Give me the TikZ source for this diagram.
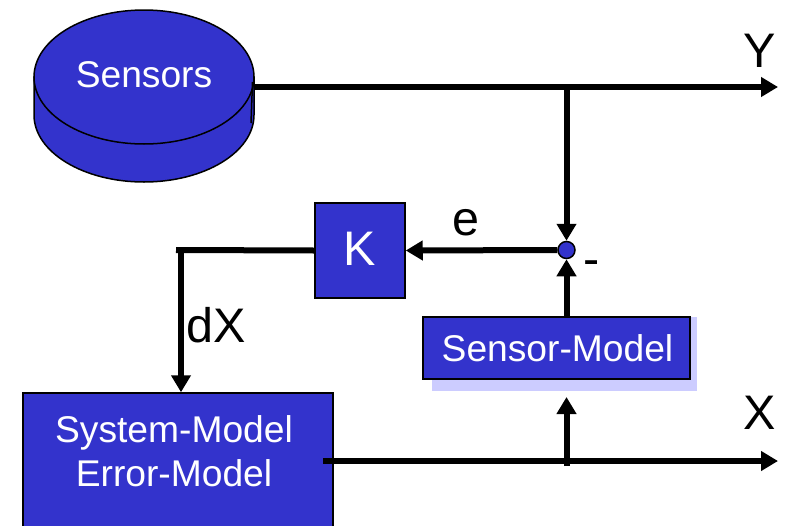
\documentclass[tikz,border=0pt]{standalone}
\usepackage{fontspec}
\setmainfont{Liberation Sans}
\usetikzlibrary{arrows.meta,positioning,shapes.geometric}
\definecolor{blockblue}{HTML}{3333CC}
\definecolor{shadowblue}{HTML}{CCCCFF}
\tikzset{
every picture/.style={
line width=1.5pt
}}

\begin{document}
\begin{tikzpicture}[x=1pt, y=-1pt,
block/.style = {rectangle, draw=black, fill=blockblue, text=white, align=center, inner sep=0pt},
bigtext/.style = {font=\fontsize{37.2}{44}\selectfont},
lettertext/.style = {font=\fontsize{48.5}{50}\selectfont, inner sep=0pt},
signal/.style = {line width=6pt, -{Triangle[length=17pt,width=19pt]}},
wire/.style = {line width=6pt}]

\useasboundingbox (0,0) rectangle (789,525);
\clip (0,0) rectangle (789,525);

% sensors
\draw [fill=blockblue] (34,77) -- (34,115) arc [start angle=180, end angle=360, x radius=110pt, y radius=67pt] -- (254,77) -- cycle;
\node (sensors) [ellipse, draw=black, fill=blockblue, minimum width=220pt, minimum height=134pt, inner sep=0pt] at (144,77) {};
\node [text=white, bigtext, inner sep=0pt] at (144,75) {Sensors};

% blocks
\node (k) [block, minimum width=90pt, minimum height=95pt, font=\fontsize{48.5}{50}\selectfont] at (360,250.5) {\raisebox{3pt}{K}};
\fill [shadowblue] (432,317) rectangle (697,391);
\node (sensormodel) [block, bigtext, minimum width=267pt, minimum height=62pt] at (556.5,348) {\hspace{2pt}Sensor-Model};
\node (sysmodel) [block, minimum width=310pt, minimum height=150pt] at (178,468) {};
\node [text=white, bigtext, align=center, inner sep=0pt] at (174,451) {System-Model\\Error-Model};
\node (sum) [circle, draw=black, fill=blockblue, minimum size=17pt, inner sep=0pt] at (566.5,250) {};

\coordinate (yend) at (778,87);
\coordinate (xstart) at (323,461);
\coordinate (xend) at (778,461);
\coordinate (ybranch) at (566.5,87);
\coordinate (xbranch) at (566.5,466);
\coordinate (kcorner) at (181,250);

% signals
\draw [signal] (sensors.east |- yend) -- (yend);
\draw [signal] (ybranch) -- (sum.north);
\draw [signal] (sum.west) -- (k.east);
\draw [signal] (sum.south |- sensormodel.north) -- (sum.south);
\draw [wire] (k.west) -- (176,250);
\draw [signal] (kcorner) -- (kcorner |- sysmodel.north);
\draw [signal] (xstart) -- (xend);
\draw [signal] (xbranch) -- (566.5,397);
\draw (252.5,82) -- (251,123);

% labels
\node (ylabel) [lettertext] at (760,51) {Y};
\node (xlabel) [lettertext] at (760,413) {X};
\node (elabel) [lettertext] at (465.5,223) {e};
\node (dxlabel) [lettertext] at (216.5,325) {dX};
\node (minuslabel) [lettertext] at (592,268) {-};
\end{tikzpicture}
\end{document}
